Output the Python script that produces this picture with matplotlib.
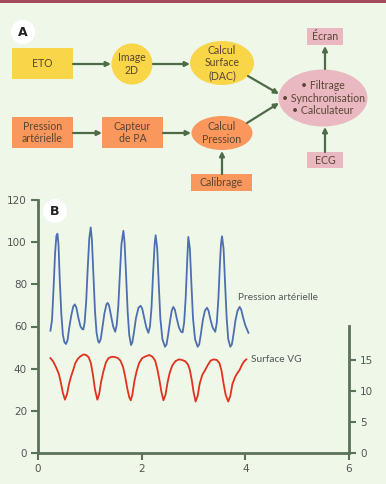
import matplotlib
matplotlib.use("Agg")
import matplotlib.pyplot as plt
from matplotlib.patches import Rectangle, Ellipse, Circle

# --- data ---
t_pression = [0.24, 0.27, 0.30, 0.33, 0.355, 0.375, 0.395, 0.42, 0.45, 0.48,
              0.51, 0.54, 0.57, 0.60, 0.64, 0.68, 0.71, 0.74, 0.78, 0.82,
              0.855, 0.875, 0.90, 0.93, 0.96, 0.99, 1.017, 1.04, 1.07, 1.10,
              1.13, 1.16, 1.18, 1.21, 1.24, 1.28, 1.32, 1.345, 1.37, 1.41,
              1.45, 1.49, 1.52, 1.55, 1.58, 1.61, 1.647, 1.67, 1.70, 1.73,
              1.76, 1.795, 1.82, 1.85, 1.89, 1.94, 1.98, 2.01, 2.05, 2.09,
              2.13, 2.16, 2.19, 2.22, 2.25, 2.27, 2.30, 2.33, 2.36, 2.40,
              2.45, 2.48, 2.51, 2.55, 2.58, 2.61, 2.64, 2.68, 2.72, 2.76,
              2.79, 2.82, 2.85, 2.88, 2.90, 2.93, 2.96, 2.99, 3.03, 3.08,
              3.11, 3.14, 3.18, 3.22, 3.26, 3.29, 3.33, 3.37, 3.42, 3.45,
              3.48, 3.51, 3.53, 3.55, 3.58, 3.61, 3.64, 3.67, 3.71, 3.74,
              3.77, 3.81, 3.85, 3.89, 3.92, 3.96, 4.00, 4.06]
pression = [58, 63, 78, 95, 103, 104, 99, 82, 66, 56,
            52.5, 51.7, 53.5, 59, 65, 69.5, 70.5, 69, 64, 60,
            58.8, 58.6, 62, 72, 88, 102, 107, 101, 84, 67,
            57, 53, 52.3, 54, 59, 66, 70.5, 71.2, 70, 65,
            60, 57.5, 61, 70, 85, 99, 105.4, 100, 84, 67,
            56, 51.2, 52.5, 57, 64, 69, 69.8, 68.5, 64, 59.5,
            57, 60, 69, 85, 99, 103.3, 97, 80, 64, 54,
            50.4, 51.5, 56, 63, 67.5, 69.3, 68, 63.5, 59.5, 57.5,
            57.2, 62, 74, 92, 102.5, 97, 80, 64, 54, 50.4,
            51.5, 56, 63, 67.5, 68.9, 67.5, 63, 59.5, 57.5, 62,
            73, 90, 99, 102.8, 97, 80, 64, 54, 50.4, 51.5,
            56, 63, 67.5, 69.3, 68, 64, 60.5, 57]

t_surface = [0.24, 0.29, 0.35, 0.40, 0.44, 0.48, 0.52, 0.56, 0.60, 0.64,
             0.68, 0.72, 0.77, 0.82, 0.88, 0.93, 0.98, 1.02, 1.06, 1.10,
             1.145, 1.18, 1.22, 1.26, 1.31, 1.36, 1.42, 1.48, 1.54, 1.59,
             1.64, 1.68, 1.72, 1.76, 1.79, 1.82, 1.86, 1.90, 1.95, 2.01,
             2.08, 2.15, 2.21, 2.26, 2.30, 2.34, 2.38, 2.42, 2.46, 2.50,
             2.54, 2.59, 2.65, 2.72, 2.78, 2.84, 2.89, 2.93, 2.97, 3.00,
             3.04, 3.08, 3.12, 3.17, 3.22, 3.27, 3.33, 3.39, 3.45, 3.50,
             3.54, 3.58, 3.62, 3.67, 3.71, 3.75, 3.80, 3.84, 3.89, 3.94,
             3.98, 4.02]
surface = [15.3, 14.8, 13.8, 12.8, 11.4, 9.7, 8.6, 9.5, 11.2, 12.4,
           13.4, 14.5, 15.2, 15.6, 15.9, 15.8, 15.4, 14.5, 12.6, 10.2,
           8.6, 9.5, 11.6, 13.1, 14.6, 15.3, 15.5, 15.5, 15.3, 14.9,
           13.9, 12.4, 10.5, 9.0, 8.5, 9.4, 11.6, 13.1, 14.5, 15.3,
           15.6, 15.8, 15.5, 14.9, 13.6, 11.9, 9.9, 8.5, 9.4, 11.4,
           12.9, 14.1, 14.8, 15.1, 15.0, 14.8, 14.3, 13.4, 11.6, 9.9,
           8.3, 9.2, 11.2, 12.6, 13.3, 14.1, 14.9, 15.1, 15.0, 14.5,
           13.3, 11.2, 9.4, 8.3, 9.2, 11.1, 12.2, 12.8, 13.4, 14.3,
           14.8, 15.1]

left_ticks = [0, 20, 40, 60, 80, 100, 120]
right_ticks = [0, 5, 10, 15]
x_ticks = [0, 2, 4, 6]

bg = "#eef7e8"
spine_col = "#5c7257"
txt_col = "#5a4634"
arrow_col = "#4e6b48"
yellow = "#f9d548"
orange = "#f9975c"
pink = "#e9b8c1"
blue = "#4d6fb2"
red = "#e0321e"

fig = plt.figure(figsize=(3.86, 4.84), dpi=100, facecolor=bg)

# --- diagram A, drawn in pixel coordinates ---
d = fig.add_axes([0, 0, 1, 1])
d.set_xlim(0, 386)
d.set_ylim(484, 0)
d.axis("off")
d.add_patch(Rectangle((0, 0), 386, 3, color="#a34b5d", lw=0))

font = "Lato"

def box(x0, y0, x1, y1, col, label):
    d.add_patch(Rectangle((x0, y0), x1 - x0, y1 - y0, color=col, lw=0))
    d.text((x0 + x1) / 2, (y0 + y1) / 2, label, ha="center", va="center",
           fontsize=7.6, color=txt_col, family=font, linespacing=1.15)

def oval(cx, cy, w, h, col, label):
    d.add_patch(Ellipse((cx, cy), w, h, color=col, lw=0))
    d.text(cx, cy, label, ha="center", va="center", fontsize=7.6,
           color=txt_col, family=font, linespacing=1.15)

def arrow(x0, y0, x1, y1):
    d.annotate("", xy=(x1, y1), xytext=(x0, y0),
               arrowprops=dict(arrowstyle="-|>", color=arrow_col, lw=1.6,
                               mutation_scale=7, shrinkA=0, shrinkB=0))

box(12, 48, 73, 79, yellow, "ETO")
oval(132, 64, 41, 41, yellow, "Image\n2D")
oval(222, 63, 64, 44, yellow, "Calcul\nSurface\n(DAC)")
box(12, 117, 73, 148, orange, "Pression\nartérielle")
box(102, 117, 163, 148, orange, "Capteur\nde PA")
oval(222, 133, 61, 34, orange, "Calcul\nPression")
box(191, 174, 252, 191, orange, "Calibrage")
oval(323, 98, 89, 57, pink, "• Filtrage\n• Synchronisation\n• Calculateur")
box(307, 28, 343, 45, pink, "Écran")
box(307, 152, 343, 168, pink, "ECG")

arrow(73, 64, 111, 64)
arrow(153, 64, 190, 64)
arrow(248, 76, 279, 94)
arrow(73, 133, 102, 133)
arrow(163, 133, 191, 133)
arrow(247, 123, 279, 103)
arrow(222, 174, 222, 151)
arrow(325, 69, 325, 46)
arrow(325, 152, 325, 127)

for cx, cy, lab in [(23, 32, "A"), (55, 211, "B")]:
    d.add_patch(Circle((cx, cy), 12, color="white", lw=0))
    d.text(cx, cy + 0.5, lab, ha="center", va="center", fontsize=9,
           fontweight="bold", color="#222222", family="DejaVu Sans")

# --- chart B ---
ax = fig.add_axes([38 / 386, 31 / 484, 311 / 386, 253 / 484])
ax.patch.set_visible(False)
ax.set_xlim(0, 6)
ax.set_ylim(0, 120)
ax.plot(t_pression, pression, color=blue, lw=1.3)

for s in ["top", "right"]:
    ax.spines[s].set_visible(False)
for s in ["left", "bottom"]:
    ax.spines[s].set_color(spine_col)
    ax.spines[s].set_linewidth(2)
ax.set_xticks(x_ticks)
ax.set_yticks(left_ticks)
tick_font = "Liberation Sans Narrow"
ax.tick_params(direction="out", length=5, width=1.5, color=spine_col,
               labelcolor="#555555", labelsize=7.5, pad=3)
for lab in ax.get_xticklabels() + ax.get_yticklabels():
    lab.set_family(tick_font)

ax2 = ax.twinx()
ax2.patch.set_visible(False)
ax2.set_ylim(0, 40.8)
ax2.plot(t_surface, surface, color=red, lw=1.3)
for s in ["top", "left", "bottom"]:
    ax2.spines[s].set_visible(False)
ax2.spines["right"].set_color(spine_col)
ax2.spines["right"].set_linewidth(2)
ax2.spines["right"].set_bounds(0, 20.5)
ax2.set_yticks(right_ticks)
ax2.tick_params(direction="out", length=5, width=1.5, color=spine_col,
                labelcolor="#555555", labelsize=7.5, pad=3)
for lab in ax2.get_yticklabels():
    lab.set_family(tick_font)

ax.text(3.86, 73.6, "Pression artérielle", fontsize=7.3, color="#555555",
        family=font, va="center", ha="left")
ax2.text(4.1, 15.1, "Surface VG", fontsize=7.3, color="#555555",
         family=font, va="center", ha="left")

fig.savefig("out.png", dpi=100, facecolor=bg)
